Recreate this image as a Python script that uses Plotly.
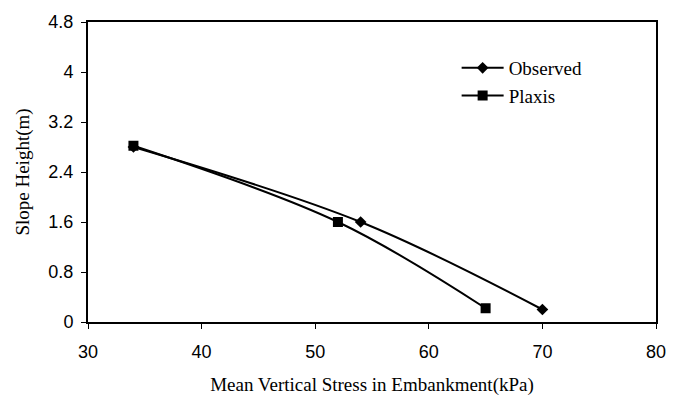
import plotly.graph_objects as go

# Mean vertical stress (kPa) vs. slope height (m)
observed_stress = [34, 54, 70]
observed_height = [2.8, 1.6, 0.2]
plaxis_stress = [34, 52, 65]
plaxis_height = [2.82, 1.6, 0.22]

x_ticks = [30, 40, 50, 60, 70, 80]
y_ticks = [0, 0.8, 1.6, 2.4, 3.2, 4, 4.8]
y_tick_text = ["0", "0.8", "1.6", "2.4", "3.2", "4", "4.8"]

SERIF = "Liberation Serif, Times New Roman, serif"
SANS = "Liberation Sans, Arial, sans-serif"

fig = go.Figure()
fig.add_trace(go.Scatter(
    x=observed_stress, y=observed_height, name="Observed",
    mode="lines+markers", legendgroup="a",
    line=dict(color="black", width=2, shape="spline", smoothing=1),
    marker=dict(symbol="diamond", size=9, color="black"),
))
fig.add_trace(go.Scatter(
    x=plaxis_stress, y=plaxis_height, name="Plaxis",
    mode="lines+markers", legendgroup="b",
    line=dict(color="black", width=2, shape="spline", smoothing=1),
    marker=dict(symbol="square", size=10, color="black"),
))

axis_common = dict(
    showgrid=False, zeroline=False, showline=True, linecolor="black",
    linewidth=2, mirror=True, ticks="outside", ticklen=5, tickwidth=1,
    tickcolor="black", tickfont=dict(family=SANS, size=18, color="black"),
    automargin=False,
)

fig.update_xaxes(
    range=[30, 80], tickvals=x_ticks, ticklabelstandoff=7,
    title=dict(text="Mean Vertical Stress in Embankment(kPa)",
               font=dict(family=SERIF, size=19, color="black"), standoff=35),
    **axis_common,
)
fig.update_yaxes(
    range=[0, 4.8], tickvals=y_ticks, ticktext=y_tick_text, ticklabelstandoff=4,
    title=dict(text="Slope Height(m)",
               font=dict(family=SERIF, size=19, color="black"), standoff=14),
    **axis_common,
)

fig.update_layout(
    width=680, height=396,
    margin=dict(l=88, r=24, t=22, b=74),
    paper_bgcolor="white", plot_bgcolor="white",
    showlegend=True,
    legend=dict(
        x=0.649, y=0.91, xanchor="left", yanchor="top",
        font=dict(family=SERIF, size=19, color="black"),
        bgcolor="rgba(0,0,0,0)", tracegroupgap=0, itemwidth=42,
    ),
)

fig.write_html("out.html")
